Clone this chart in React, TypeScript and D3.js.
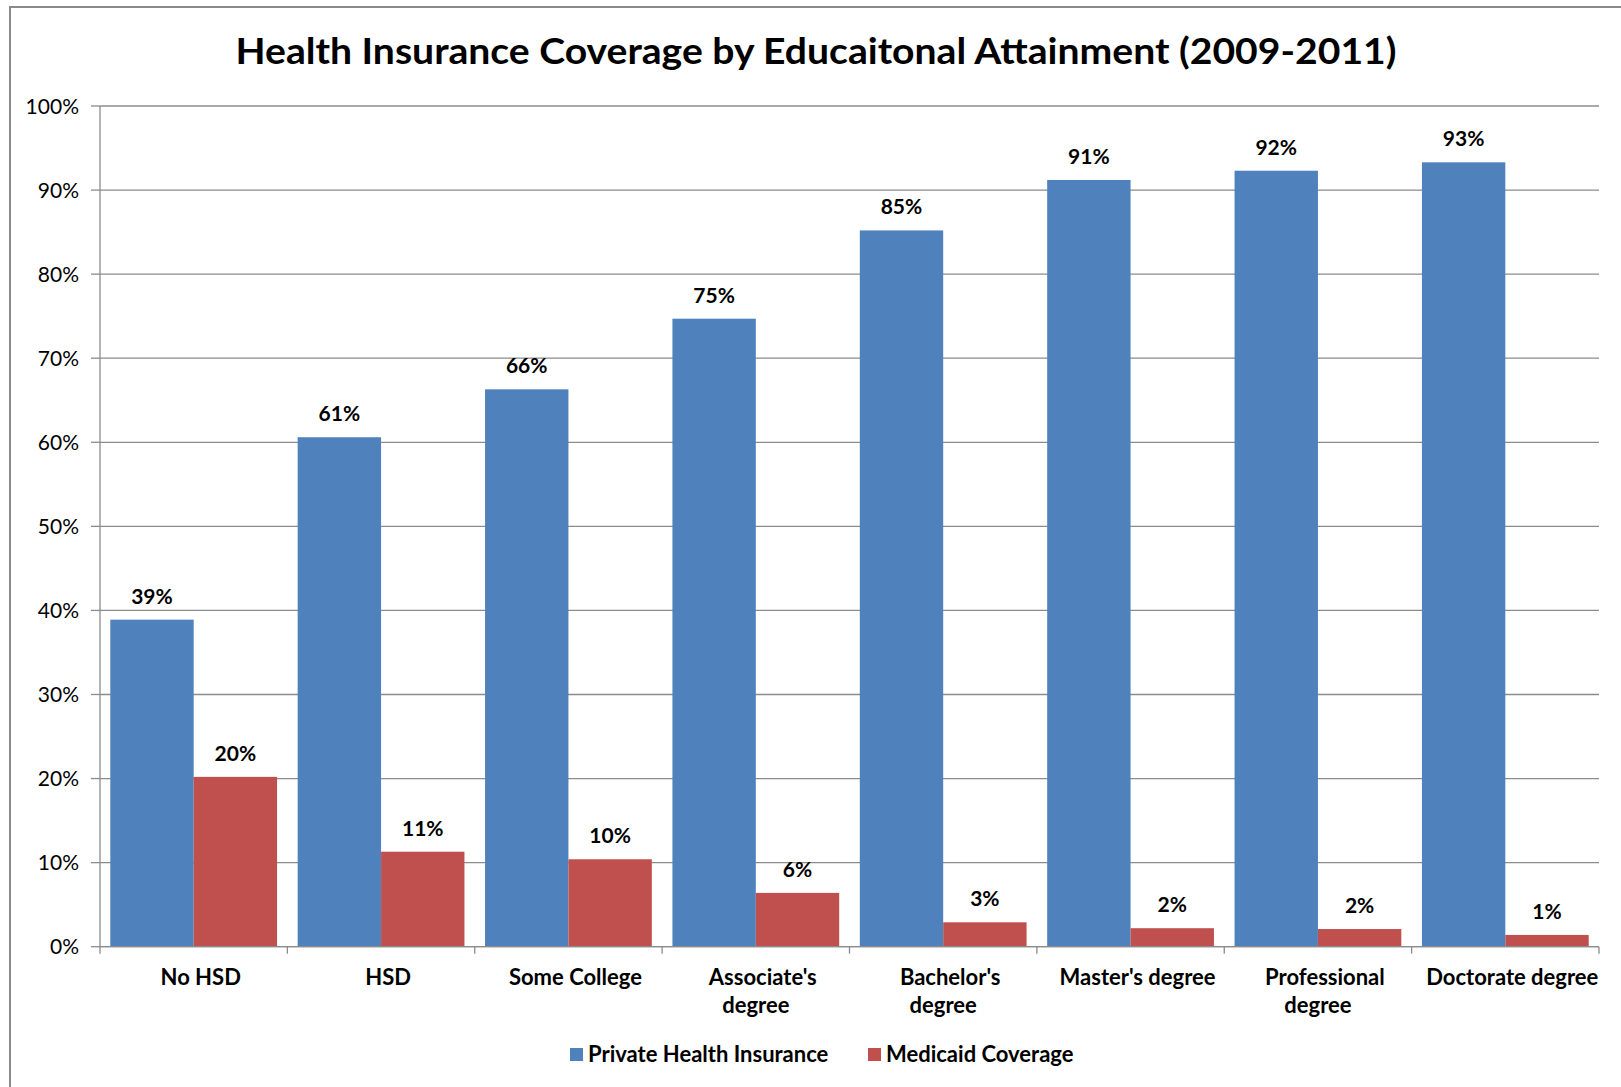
import React from "react";
import * as d3 from "d3";

const categories: string[][] = [
  ["No HSD"],
  ["HSD"],
  ["Some College"],
  ["Associate's", "degree"],
  ["Bachelor's", "degree"],
  ["Master's degree"],
  ["Professional", "degree"],
  ["Doctorate degree"],
];
const seriesNames = ["Private Health Insurance", "Medicaid Coverage"];
const privateValues = [38.9, 60.6, 66.3, 74.7, 85.2, 91.2, 92.3, 93.3];
const medicaidValues = [20.2, 11.3, 10.4, 6.4, 2.9, 2.2, 2.1, 1.4];
const yTicks = [0, 10, 20, 30, 40, 50, 60, 70, 80, 90, 100];
const title = "Health Insurance Coverage by Educaitonal Attainment (2009-2011)";

const colors = ["#4F81BD", "#C0504D"];
const FONT = "Lato, 'Open Sans', sans-serif";

export default function App() {
  const W = 1621, H = 1087;
  const left = 100, right = 1599, top = 106, bottom = 946.7;
  const keys = categories.map((c) => c.join(" "));
  const x0 = d3.scaleBand<string>().domain(keys).range([left, right]).paddingInner(0.11).paddingOuter(0.055);
  const x1 = d3.scaleBand<string>().domain(seriesNames).range([0, x0.bandwidth()]);
  const y = d3.scaleLinear().domain([0, 100]).range([bottom, top]);
  const step = x0.step();
  const series = [privateValues, medicaidValues];

  return (
    <svg width={W} height={H} style={{ position: "absolute", left: 0, top: 0, background: "#fff" }} fontFamily={FONT}>
      <rect x={10} y={7} width={1700} height={1200} fill="#fff" stroke="#8a8a8a" strokeWidth={2} />
      <text x={816} y={64} textAnchor="middle" fontSize={36} fontWeight="bold" fill="#000" textLength={1161} lengthAdjust="spacingAndGlyphs">{title}</text>
      {yTicks.map((t) => (
        <g key={t}>
          <line x1={left} x2={right} y1={y(t)} y2={y(t)} stroke="#8c8c8c" strokeWidth={1.3} />
          <line x1={left - 9} x2={left} y1={y(t)} y2={y(t)} stroke="#8c8c8c" strokeWidth={1.3} />
          <text x={79} y={y(t)} dy="0.36em" textAnchor="end" fontSize={21} fill="#000">{t}%</text>
        </g>
      ))}
      <line x1={left} x2={left} y1={top} y2={bottom} stroke="#8c8c8c" strokeWidth={1.3} />
      {d3.range(categories.length + 1).map((i) => (
        <line key={i} x1={left + i * step} x2={left + i * step} y1={bottom} y2={bottom + 7} stroke="#8c8c8c" strokeWidth={1.3} />
      ))}
      {series.map((vals, si) =>
        vals.map((v, ci) => {
          const bx = (x0(keys[ci]) as number) + (x1(seriesNames[si]) as number);
          const bw = x1.bandwidth();
          return (
            <g key={`${si}-${ci}`}>
              <rect x={bx} y={y(v)} width={bw} height={y(0) - y(v)} fill={colors[si]} />
              <text x={bx + bw / 2} y={y(v) - 16} textAnchor="middle" fontSize={21} fontWeight="bold" fill="#000">
                {Math.round(v)}%
              </text>
            </g>
          );
        })
      )}
      <line x1={left} x2={right} y1={bottom} y2={bottom} stroke="#8c8c8c" strokeWidth={1.3} />
      {categories.map((lines, ci) => {
        const cx = (x0(keys[ci]) as number) + x0.bandwidth() / 2;
        return lines.map((ln, li) => (
          <text key={`${ci}-${li}`} x={cx + (li === 0 ? 7 : 0)} y={985 + li * 27.5} textAnchor="middle" fontSize={22} fontWeight="bold" fill="#000">
            {ln}
          </text>
        ));
      })}
      {seriesNames.map((s, i) => {
        const lx = [570, 868][i];
        return (
          <g key={s}>
            <rect x={lx} y={1048} width={13} height={13} fill={colors[i]} />
            <text x={lx + 18} y={1062} fontSize={22} fontWeight="bold" fill="#000">{s}</text>
          </g>
        );
      })}
    </svg>
  );
}
